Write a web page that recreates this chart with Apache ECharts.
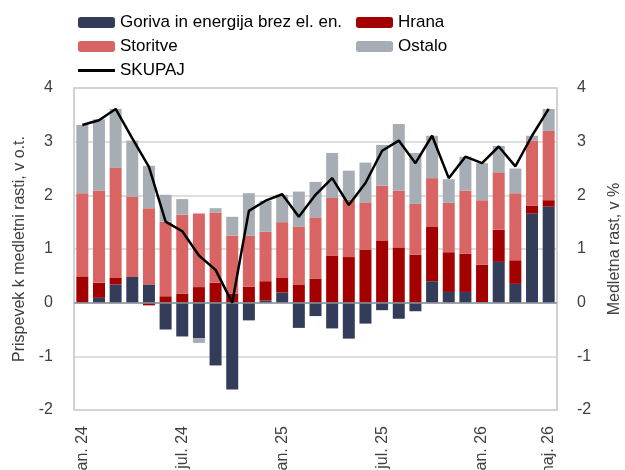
<!DOCTYPE html>
<html>
<head>
<meta charset="utf-8">
<script src="https://cdn.jsdelivr.net/npm/echarts@6/dist/echarts.min.js"></script>
<style>html,body{margin:0;padding:0;background:#fff}#c{width:625px;height:470px}</style>
</head>
<body>
<div id="c"></div>
<script>
const categories = ['jan. 24','feb. 24','mar. 24','apr. 24','maj. 24','jun. 24','jul. 24','avg. 24','sep. 24','okt. 24','nov. 24','dec. 24',
  'jan. 25','feb. 25','mar. 25','apr. 25','maj. 25','jun. 25','jul. 25','avg. 25','sep. 25','okt. 25','nov. 25','dec. 25',
  'jan. 26','feb. 26','mar. 26','apr. 26','maj. 26'];
const goriva   = [0.00,0.09,0.34,0.48,0.34,-0.50,-0.63,-0.66,-1.17,-1.62,-0.33,0.04,0.19,-0.47,-0.25,-0.48,-0.67,-0.39,-0.14,-0.30,-0.16,0.40,0.20,0.20,0.01,0.76,0.35,1.66,1.79];
const hrana    = [0.49,0.28,0.12,0.00,-0.05,0.12,0.17,0.29,0.37,0.17,0.30,0.36,0.27,0.34,0.45,0.88,0.85,0.99,1.16,1.03,0.89,1.01,0.74,0.71,0.70,0.60,0.44,0.15,0.12];
const storitve = [1.55,1.72,2.05,1.50,1.42,1.39,1.47,1.37,1.31,1.08,0.95,0.92,1.04,1.08,1.14,1.07,1.07,0.88,1.02,1.06,0.95,0.91,0.92,1.18,1.20,1.07,1.25,1.21,1.29];
const ostalo   = [1.27,1.33,1.10,1.04,0.79,0.50,0.29,-0.09,0.08,0.35,0.79,0.58,0.51,0.65,0.66,0.84,0.54,0.74,0.76,1.24,0.95,0.79,0.44,0.63,0.69,0.49,0.46,0.09,0.41];
const skupaj   = [3.31,3.40,3.61,3.06,2.53,1.51,1.33,0.88,0.61,0.00,1.71,1.90,2.02,1.60,2.01,2.32,1.82,2.23,2.83,3.02,2.60,3.11,2.32,2.72,2.60,2.91,2.54,3.11,3.61];
const seriesNames = ['Goriva in energija brez el. en.','Hrana','Storitve','Ostalo','SKUPAJ'];
const yTicks = {min:-2, max:4, interval:1};

const FONT = 'Liberation Sans';
const colors = ['#333D5A','#A30000','#D86563','#A6ADB4','#000000'];
const chart = echarts.init(document.getElementById('c'), null, {renderer:'canvas'});

function leg(name, left, top, extra){
  return Object.assign({data:[name], left:left, top:top, padding:0, itemWidth:37, itemHeight:11, itemGap:0,
    textStyle:{fontFamily:FONT, fontSize:17, color:'#000'}, selectedMode:false}, extra||{});
}
const barBase = {type:'bar', stack:'a', barCategoryGap:'28%', yAxisIndex:0};

chart.setOption({
  animation:false,
  color:colors,
  legend:[
    leg(seriesNames[0],78,14), leg(seriesNames[1],356,14),
    leg(seriesNames[2],78,38), leg(seriesNames[3],356,38),
    leg(seriesNames[4],78,62,{icon:'rect', itemHeight:3, itemStyle:{color:'#000'}})
  ],
  grid:{left:74, right:68, top:88, bottom:60, containLabel:false, outerBoundsMode:'none',
    show:true, borderColor:'#C4C4C4', borderWidth:1.5},
  xAxis:{type:'category', data:categories, axisLine:{show:false, onZero:false}, axisTick:{show:false},
    axisLabel:{rotate:90, margin:16, fontFamily:FONT, fontSize:16, color:'#404040',
      interval:function(i){return i%6===0 || i===28;}}},
  yAxis:[
    {type:'value', min:yTicks.min, max:yTicks.max, interval:yTicks.interval,
     name:'Prispevek k medletni rasti, v o.t.', nameLocation:'middle', nameGap:44,
     nameTextStyle:{fontFamily:FONT, fontSize:16, color:'#404040'},
     axisLabel:{margin:21, fontFamily:FONT, fontSize:16, color:'#404040'},
     axisLine:{show:false}, axisTick:{show:false},
     splitLine:{lineStyle:{color:'#D3D3D3', width:1.5}}},
    {type:'value', min:yTicks.min, max:yTicks.max, interval:yTicks.interval, position:'right',
     name:'Medletna rast, v %', nameLocation:'middle', nameGap:50, nameRotate:90,
     nameTextStyle:{fontFamily:FONT, fontSize:16, color:'#404040'},
     axisLabel:{margin:20, fontFamily:FONT, fontSize:16, color:'#404040'},
     axisLine:{show:false}, axisTick:{show:false}, splitLine:{show:false}}
  ],
  series:[
    Object.assign({name:seriesNames[0], data:goriva}, barBase),
    Object.assign({name:seriesNames[1], data:hrana}, barBase),
    Object.assign({name:seriesNames[2], data:storitve}, barBase),
    Object.assign({name:seriesNames[3], data:ostalo}, barBase),
    {name:seriesNames[4], type:'line', yAxisIndex:1, data:skupaj, symbol:'none', z:10,
     lineStyle:{color:'#000', width:2.5},
     markLine:{silent:true, symbol:'none', label:{show:false},
       lineStyle:{color:'#8A8F98', width:1.5, type:'solid'}, data:[{yAxis:0}]}}
  ]
});
</script>
</body>
</html>
